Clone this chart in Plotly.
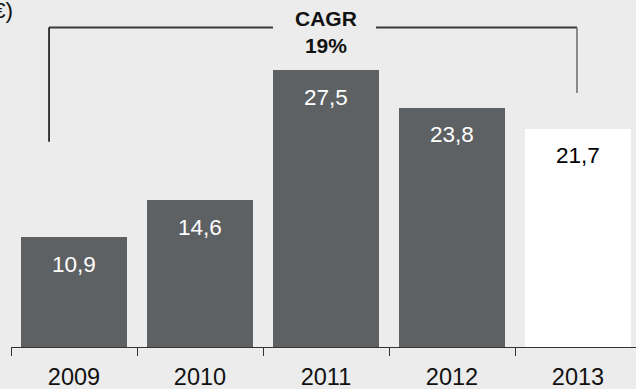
import plotly.graph_objects as go

years = ["2009", "2010", "2011", "2012", "2013"]
values = [10.9, 14.6, 27.5, 23.8, 21.7]
labels = ["10,9", "14,6", "27,5", "23,8", "21,7"]
bar_colors = ["#5e6164", "#5e6164", "#5e6164", "#5e6164", "#ffffff"]
label_colors = ["#ffffff", "#ffffff", "#ffffff", "#ffffff", "#000000"]
cagr_text = "<b>CAGR<br>19%</b>"
unit_text = "€)"

FONT = "Liberation Sans, Arial, sans-serif"
BG = "#ebeceb"

fig = go.Figure()
fig.add_trace(go.Bar(
    x=years, y=values,
    marker=dict(color=bar_colors, line=dict(width=0)),
    width=0.835,
    hoverinfo="skip",
))

for i, (v, lab, c) in enumerate(zip(values, labels, label_colors)):
    fig.add_annotation(x=i, y=v, xref="x", yref="y", text=lab, showarrow=False,
                       yshift=-27, yanchor="middle", xanchor="center",
                       font=dict(family=FONT, size=22.5, color=c))

# CAGR bracket (plot area: y 0..347 px)
line_dark = dict(color="#3a3a3a", width=2)
Y_TOP = 0.9207
fig.add_shape(type="line", xref="x", yref="paper", x0=-0.198, x1=1.579, y0=Y_TOP, y1=Y_TOP, line=line_dark)
fig.add_shape(type="line", xref="x", yref="paper", x0=2.397, x1=3.992, y0=Y_TOP, y1=Y_TOP, line=line_dark)
fig.add_shape(type="line", xref="x", yref="paper", x0=-0.198, x1=-0.198, y0=Y_TOP, y1=0.5916,
              line=dict(color="#000000", width=1.5))
fig.add_shape(type="line", xref="x", yref="paper", x0=3.992, x1=3.992, y0=Y_TOP, y1=0.732,
              line=dict(color="#6a6a6a", width=1.5))

fig.add_annotation(x=2, y=0.908, xref="x", yref="paper", text=cagr_text, showarrow=False,
                   yanchor="middle", xanchor="center",
                   font=dict(family=FONT, size=21, color="#111111"))

fig.add_annotation(x=0.0064, y=0.971, xref="paper", yref="paper", text=unit_text, showarrow=False,
                   xanchor="right", yanchor="middle",
                   font=dict(family=FONT, size=22.5, color="#111111"))

fig.update_layout(
    width=636, height=389,
    margin=dict(l=11, r=0, t=0, b=42),
    paper_bgcolor=BG, plot_bgcolor=BG,
    showlegend=False,
    bargap=0,
    hovermode=False,
    xaxis=dict(
        type="category",
        range=[-0.5, -0.5 + 625 / 126],
        tickson="boundaries",
        ticks="outside", ticklen=8, tickcolor="#333333", tickwidth=1,
        showline=True, linecolor="#333333", linewidth=1,
        showgrid=False, zeroline=False,
        ticklabelstandoff=9,
        tickfont=dict(family=FONT, size=23.5, color="#111111"),
    ),
    yaxis=dict(range=[0, 34.5], visible=False, showgrid=False, zeroline=False),
)

fig.write_html(
    "out.html",
    config={"displayModeBar": False, "staticPlot": True},
    post_script="document.body.style.margin='0';document.body.style.background='%s';" % BG,
)
